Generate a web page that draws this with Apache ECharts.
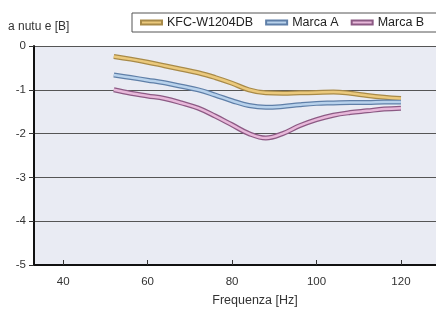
<!DOCTYPE html>
<html>
<head>
<meta charset="utf-8">
<script src="https://cdn.jsdelivr.net/npm/echarts@6/dist/echarts.min.js"></script>
<style>
  html, body { margin: 0; padding: 0; background: #fff; }
  #chart { width: 436px; height: 310px; }
</style>
</head>
<body>
<div id="chart"></div>
<script>
// frequenze (Hz)
const freq = [52, 56, 60, 64, 68, 72, 76, 80, 84, 88, 92, 96, 100, 104, 108, 112, 116, 120];
// valori
const kfc = [-0.24, -0.30, -0.37, -0.45, -0.53, -0.61, -0.72, -0.85, -1.00, -1.07, -1.08, -1.07, -1.06, -1.05, -1.08, -1.13, -1.17, -1.20];
const marcaA = [-0.66, -0.72, -0.78, -0.84, -0.92, -1.00, -1.12, -1.25, -1.36, -1.40, -1.38, -1.34, -1.31, -1.30, -1.29, -1.29, -1.28, -1.28];
const marcaB = [-1.00, -1.08, -1.14, -1.20, -1.30, -1.42, -1.60, -1.80, -2.00, -2.10, -2.00, -1.82, -1.68, -1.58, -1.52, -1.48, -1.44, -1.42];
const xTicks = [40, 60, 80, 100, 120];
const seriesNames = ['KFC-W1204DB', 'Marca A', 'Marca B'];

const chart = echarts.init(document.getElementById('chart'));

const font = '"Liberation Sans Narrow", "Liberation Sans", Arial, sans-serif';
const zip = (ys) => freq.map((f, i) => [f, ys[i]]);

// linea doppia: bordo scuro sotto, colore chiaro sopra
function tube(name, data, light, dark) {
  return [
    {
      name: name + ' (bordo)', type: 'line', data: zip(data), smooth: 0.4, symbol: 'none',
      lineStyle: { color: dark, width: 5 }, z: 2
    },
    {
      name: name, type: 'line', data: zip(data), smooth: 0.4, symbol: 'none',
      itemStyle: { color: light, borderColor: dark, borderWidth: 0.8 },
      lineStyle: { color: light, width: 2.5 }, z: 3
    }
  ];
}

chart.setOption({
  backgroundColor: '#fff',
  animation: false,
  textStyle: { fontFamily: font },
  title: {
    text: 'a nutu e [B]',
    left: 3, top: 16,
    textStyle: { fontSize: 12, fontWeight: 'normal', color: '#333', fontFamily: font }
  },
  legend: {
    data: seriesNames,
    left: 132, top: 13,
    width: 420,
    itemWidth: 21, itemHeight: 4, itemGap: 12,
    icon: 'rect',
    padding: [3, 40, 3, 8],
    borderColor: '#555', borderWidth: 1,
    textStyle: { fontSize: 12.5, color: '#222', fontFamily: font }
  },
  grid: {
    left: 34, right: 0, top: 46, bottom: 45,
    outerBoundsMode: 'none',
    show: true, backgroundColor: '#e9ebf3', borderWidth: 0
  },
  xAxis: {
    type: 'value', min: 33.1, max: 128.3,
    name: 'Frequenza [Hz]', nameLocation: 'middle', nameGap: 29,
    nameTextStyle: { fontSize: 12.5, color: '#333', fontFamily: font, padding: [0, 0, 0, 40] },
    axisLine: { onZero: false, lineStyle: { color: '#111', width: 2 } },
    axisTick: { show: true, inside: true, length: 5, customValues: xTicks, lineStyle: { color: '#333' } },
    axisLabel: { customValues: xTicks, fontSize: 11.5, color: '#333', margin: 11 },
    splitLine: { show: false }
  },
  yAxis: {
    type: 'value', min: -5, max: 0, interval: 1,
    axisLine: { show: true, lineStyle: { color: '#111', width: 2 } },
    axisTick: { show: true, length: 5, lineStyle: { color: '#333' } },
    axisLabel: { fontSize: 11.5, color: '#333', margin: 8 },
    splitLine: { show: true, lineStyle: { color: '#555', width: 1 } }
  },
  series: [
    ...tube(seriesNames[0], kfc, '#ebc97c', '#a88a48'),
    ...tube(seriesNames[1], marcaA, '#b8d2ec', '#5f7fa8'),
    ...tube(seriesNames[2], marcaB, '#e8b8da', '#8c5a84')
  ]
});
</script>
</body>
</html>
